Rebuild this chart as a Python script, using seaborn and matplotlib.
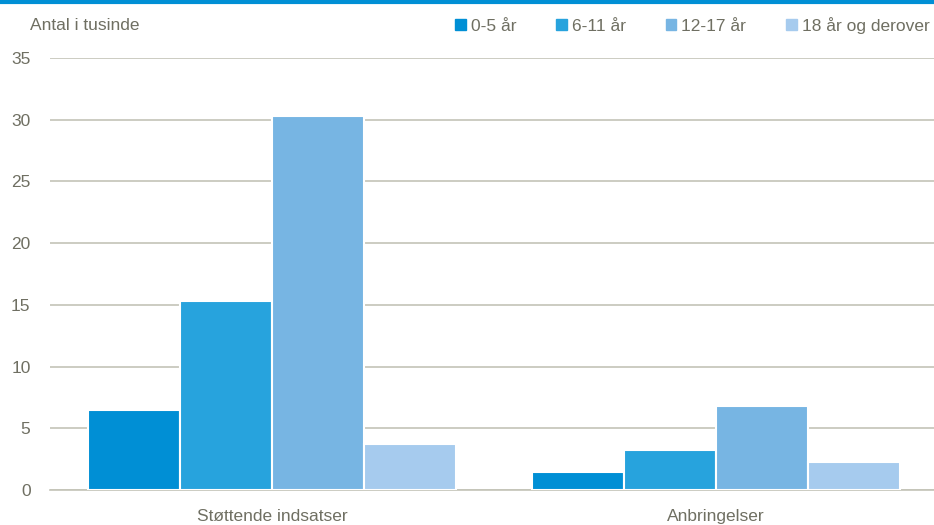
import matplotlib.pyplot as plt
import seaborn as sns
import pandas as pd

categories = ["Støttende indsatser", "Anbringelser"]
age_groups = ["0-5 år", "6-11 år", "12-17 år", "18 år og derover"]
values_0_5 = [6.45, 1.45]
values_6_11 = [15.35, 3.2]
values_12_17 = [30.3, 6.8]
values_18 = [3.75, 2.25]
colors = ["#008fd5", "#27a3dd", "#77b5e3", "#a6cbee"]
yticks = [0, 5, 10, 15, 20, 25, 30, 35]

rows = []
for grp, vals in zip(age_groups, [values_0_5, values_6_11, values_12_17, values_18]):
    for cat, v in zip(categories, vals):
        rows.append({"kategori": cat, "alder": grp, "antal": v})
df = pd.DataFrame(rows)

sns.set_style("white")
plt.rcParams["font.family"] = ["Liberation Sans Narrow", "Liberation Sans", "DejaVu Sans"]
text_col = "#6f6f62"
grid_col = "#c4c4b8"

fig = plt.figure(figsize=(9.34, 5.25), dpi=100)
ax = fig.add_axes([0.0535, 0.0667, 0.946, 0.8228])

sns.barplot(data=df, x="kategori", y="antal", hue="alder", hue_order=age_groups,
            palette=colors, width=0.83, edgecolor="white", linewidth=1.5,
            saturation=1, ax=ax, legend=False, zorder=3)

ax.set_ylim(0, 35)
ax.set_xlim(-0.5, 1.49)
ax.set_yticks(yticks)
ax.yaxis.grid(True, color=grid_col, linewidth=1.2, zorder=0)
ax.set_axisbelow(True)
for s in ["top", "right", "left"]:
    ax.spines[s].set_visible(False)
ax.spines["bottom"].set_color(grid_col)
ax.spines["bottom"].set_linewidth(1.2)
ax.tick_params(axis="both", length=0, labelsize=12.5, colors=text_col)
ax.tick_params(axis="y", pad=14)
ax.tick_params(axis="x", pad=14)
ax.set_xlabel("")
ax.set_ylabel("")

fig.text(0.032, 0.952, "Antal i tusinde", fontsize=12.5, color=text_col, va="center")

handles = [plt.Rectangle((0, 0), 1, 1, color=c) for c in colors]
fig.legend(handles, age_groups, loc="center right", bbox_to_anchor=(1.012, 0.952),
           ncol=4, frameon=False, fontsize=12.5, labelcolor=text_col,
           handlelength=0.6, handleheight=0.6, handletextpad=0.3, columnspacing=2.3)

fig.add_artist(plt.Line2D([0, 1], [0.997, 0.997], color="#008fd5", linewidth=3,
                          transform=fig.transFigure))

plt.savefig("out.png", dpi=100)
plt.close()
